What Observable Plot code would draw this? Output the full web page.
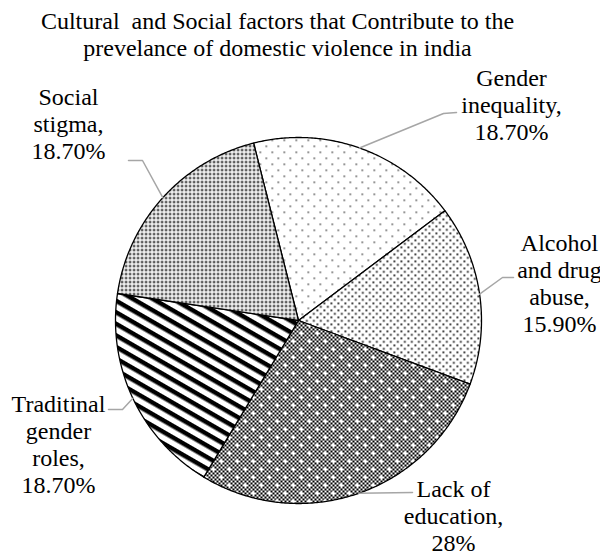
<!DOCTYPE html>
<html>
<head>
<meta charset="utf-8">
<script src="https://cdn.jsdelivr.net/npm/d3@7"></script>
<script src="https://cdn.jsdelivr.net/npm/@observablehq/plot@0.6"></script>
<style>
  html, body { margin: 0; padding: 0; background: #fff; }
  #chart { width: 600px; height: 554px; }
  #chart svg text { font-family: "Liberation Serif", "Times New Roman", serif !important; }
</style>
</head>
<body>
<svg width="0" height="0" style="position:absolute">
  <defs>
    <pattern id="pGender" width="12" height="12" patternUnits="userSpaceOnUse">
      <rect width="12" height="12" fill="#fff"/>
      <rect x="1" y="1" width="1.5" height="1.5" fill="#444"/>
      <rect x="7" y="7" width="1.5" height="1.5" fill="#444"/>
    </pattern>
    <pattern id="pAlcohol" width="7" height="7" patternUnits="userSpaceOnUse">
      <rect width="7" height="7" fill="#fff"/>
      <rect x="1" y="1" width="1.7" height="1.7" fill="#000"/>
      <rect x="4.5" y="4.5" width="1.7" height="1.7" fill="#000"/>
    </pattern>
    <pattern id="pChecker" width="4" height="4" patternUnits="userSpaceOnUse">
      <rect width="4" height="4" fill="#fff"/>
      <rect x="0" y="0" width="2" height="2" fill="#000"/>
      <rect x="2" y="2" width="2" height="2" fill="#000"/>
    </pattern>
    <pattern id="pEducation" width="16" height="16" patternUnits="userSpaceOnUse">
      <rect width="16" height="16" fill="url(#pChecker)"/>
      <rect x="3" y="3" width="3" height="3" fill="#fff"/>
      <rect x="11" y="11" width="3" height="3" fill="#fff"/>
    </pattern>
    <pattern id="pStripes" width="10" height="10" patternUnits="userSpaceOnUse" patternTransform="rotate(30)">
      <rect width="10" height="10" fill="#fff"/>
      <rect x="0" y="0" width="10" height="4.5" fill="#000"/>
    </pattern>
    <pattern id="pSocial" width="4" height="4" patternUnits="userSpaceOnUse">
      <rect width="4" height="4" fill="#fff"/>
      <rect x="0.5" y="0.5" width="2.1" height="2.1" fill="#000"/>
    </pattern>
  </defs>
</svg>
<div id="chart"></div>
<script>
// ---- data ----
const categories = ["Gender inequality", "Alcohol and drug abuse", "Lack of education", "Traditinal gender roles", "Social stigma"];
const values = [18.7, 15.9, 28, 18.7, 18.7];
const valueLabels = ["18.70%", "15.90%", "28%", "18.70%", "18.70%"];
const labelLines = [
  ["Gender", "inequality,"],
  ["Alcohol", "and drug", "abuse,"],
  ["Lack of", "education,"],
  ["Traditinal", "gender", "roles,"],
  ["Social", "stigma,"]
];
const titleLines = ["Cultural\u00a0 and Social factors that Contribute to the", "prevelance of domestic violence in india"];

// ---- layout / style ----
const W = 600, H = 554;
const cx = 298, cy = 320, R = 183;
const startDeg = -14.2;
const patterns = ["url(#pGender)", "url(#pAlcohol)", "url(#pEducation)", "url(#pStripes)", "url(#pSocial)"];
// label centre x, last baseline y, leader elbow & end points
const labelLayout = [
  {lx: 511, ly: 139, pts: [[443, 113], [456, 112]]},
  {lx: 559, ly: 331, pts: [[502, 277], [513, 277]]},
  {lx: 453, ly: 550, pts: [[412, 492]]},
  {lx: 58,  ly: 492, pts: [[122, 409], [108, 409]]},
  {lx: 68,  ly: 158, pts: [[142, 160], [128, 160]]}
];
const font = "Liberation Serif, Times New Roman, serif";

const data = categories.map((c, i) => ({name: c, value: values[i], fill: patterns[i]}));
const start = startDeg * Math.PI / 180;
const arcs = d3.pie().value(d => d.value).sort(null).startAngle(start).endAngle(start + 2 * Math.PI)(data);

const px = a => cx + R * Math.sin(a);
const py = a => cy - R * Math.cos(a);

const slicePts = [];
arcs.forEach(a => {
  slicePts.push({name: a.data.name, fill: a.data.fill, x: cx, y: cy});
  const n = Math.max(2, Math.ceil((a.endAngle - a.startAngle) / (Math.PI / 360)));
  for (let k = 0; k <= n; k++) {
    const t = a.startAngle + (a.endAngle - a.startAngle) * k / n;
    slicePts.push({name: a.data.name, fill: a.data.fill, x: px(t), y: py(t)});
  }
});

const leaderPts = [];
arcs.forEach((a, i) => {
  const m = (a.startAngle + a.endAngle) / 2;
  leaderPts.push({name: a.data.name, x: px(m), y: py(m)});
  labelLayout[i].pts.forEach(p => leaderPts.push({name: a.data.name, x: p[0], y: p[1]}));
});

const labelRows = arcs.map((a, i) => ({
  text: labelLines[i].concat([valueLabels[i]]).join("\n"),
  x: labelLayout[i].lx, y: labelLayout[i].ly
}));

const chart = Plot.plot({
  width: W, height: H,
  margin: 0,
  x: {domain: [0, W], range: [0, W], axis: null},
  y: {domain: [0, H], range: [0, H], axis: null},
  color: {type: "identity"},
  style: {background: "#fff", overflow: "hidden", fontFamily: font},
  marks: [
    Plot.line(slicePts, {x: "x", y: "y", z: "name", fill: "fill", stroke: "#000", strokeWidth: 1.3, curve: "linear-closed", strokeLinejoin: "round"}),
    Plot.line(leaderPts, {x: "x", y: "y", z: "name", stroke: "#a6a6a6", strokeWidth: 1.5}),
    Plot.text(labelRows, {x: "x", y: "y", text: "text", textAnchor: "middle", lineAnchor: "bottom", lineHeight: 27 / 24, fontSize: 24, fontFamily: font, fill: "#000"}),
    Plot.text([titleLines.join("\n")], {x: 277, y: 55, text: d => d, textAnchor: "middle", lineAnchor: "bottom", lineHeight: 27 / 24, fontSize: 24, fontFamily: font, fill: "#000"})
  ]
});
document.getElementById("chart").appendChild(chart);
</script>
</body>
</html>
